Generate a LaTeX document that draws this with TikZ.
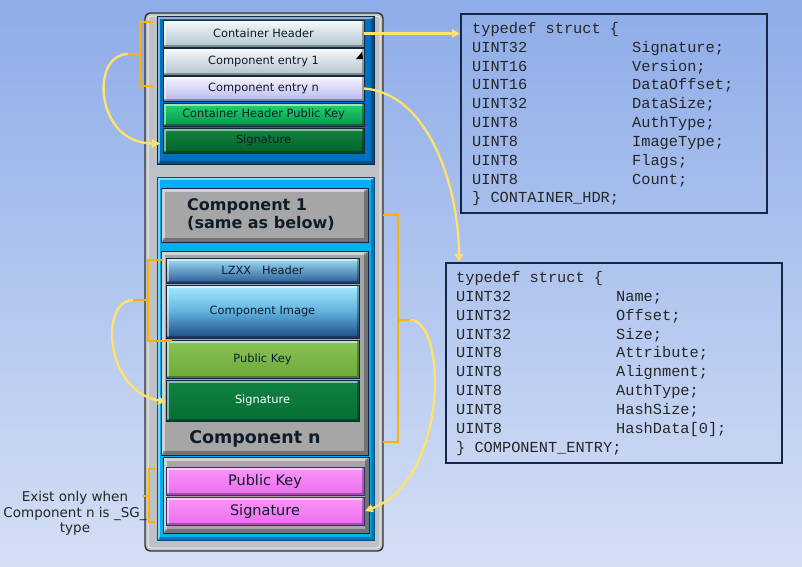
\documentclass[tikz,border=0pt]{standalone}
\usepackage{fontspec}
\setmainfont{DejaVu Sans}
\newfontfamily\monofont{Liberation Mono}
\usetikzlibrary{calc,arrows.meta}
\definecolor{bgtop}{RGB}{142,172,232}
\definecolor{bgbot}{RGB}{212,223,245}
\definecolor{edge}{RGB}{20,40,70}
\definecolor{txt}{RGB}{14,28,42}
\definecolor{outerg}{RGB}{190,194,198}
\definecolor{topblue}{RGB}{0,112,192}
\definecolor{cyanb}{RGB}{0,176,240}
\definecolor{yarr}{RGB}{255,226,102}
\definecolor{obr}{RGB}{255,176,0}
\definecolor{grayb}{RGB}{166,166,166}
\definecolor{pinkt}{RGB}{250,150,250}
\definecolor{pinkb}{RGB}{236,108,236}
\begin{document}
\begin{tikzpicture}[x=1pt,y=-1pt,
  lbl/.style={font=\fontsize{11.4}{13}\selectfont, text=txt},
  bevel/.style={path picture={
    \draw[white, opacity=0.5, line width=#1] ([xshift=0.5*#1,yshift=0.5*#1]path picture bounding box.south west) -- ([xshift=0.5*#1,yshift=-0.5*#1]path picture bounding box.north west) -- ([xshift=-0.5*#1,yshift=-0.5*#1]path picture bounding box.north east);
    \draw[black, opacity=0.3, line width=#1] ([xshift=-0.5*#1,yshift=-0.5*#1]path picture bounding box.north east) -- ([xshift=-0.5*#1,yshift=0.5*#1]path picture bounding box.south east) -- ([xshift=0.5*#1,yshift=0.5*#1]path picture bounding box.south west);
  }},
  bevel/.default=2.5pt,
  bx/.style={draw=edge, line width=0.8pt, inner sep=0pt, outer sep=0pt},
  yarrow/.style={draw=yarr, line width=2.3pt, -{Triangle[length=8pt,width=8pt]}},
  brace/.style={draw=obr, line width=2.5pt},
  mono/.style={font=\monofont\fontsize{15.3}{18.85}\selectfont, text=black!85, inner sep=0pt},
  structbox/.style={draw=edge, line width=2pt, inner sep=0pt}
]
\useasboundingbox (0,0) rectangle (802,566);
\fill[top color=bgtop,bottom color=bgbot] (0,0) rectangle (802,566);

% outer container
\node[bx, draw=black!80, line width=1.4pt, rounded corners=5pt, fill=outerg, minimum width=238pt, minimum height=538pt] (outer) at (264,282) {};
\draw[white!85!gray, line width=1pt, rounded corners=3pt] ($(outer.north west)+(3,3)$) rectangle ($(outer.south east)+(-3,-3)$);

% top blue region
\node[bx, fill=topblue, draw=edge, minimum width=217pt, minimum height=148pt, bevel=3pt] (topb) at (265.5,90) {};

\node[bx, lbl, bevel, top color={rgb,255:red,246;green,249;blue,251}, bottom color={rgb,255:red,178;green,196;blue,206}, minimum width=201pt, minimum height=27pt] (ch) at (263.5,33.5) {Container Header};
\node[bx, lbl, bevel, top color={rgb,255:red,246;green,249;blue,251}, bottom color={rgb,255:red,178;green,196;blue,206}, minimum width=201pt, minimum height=27pt] (ce1) at (263.5,61.5) {Component entry 1};
\fill[black] (356,59) -- (362,52) -- (363,59) -- cycle;
\node[bx, lbl, bevel, top color={rgb,255:red,246;green,246;blue,255}, bottom color={rgb,255:red,184;green,184;blue,240}, minimum width=201pt, minimum height=25pt] (cen) at (263.5,88.5) {Component entry n};
\node[bx, lbl, bevel, top color={rgb,255:red,40;green,212;blue,112}, bottom color={rgb,255:red,0;green,152;blue,72}, minimum width=201pt, minimum height=23pt] (chpk) at (263.5,114.5) {Container Header Public Key};
\node[bx, lbl, bevel, top color={rgb,255:red,22;green,132;blue,62}, bottom color={rgb,255:red,0;green,98;blue,44}, minimum width=201pt, minimum height=25pt] (sig1) at (263.5,140.5) {Signature};

% lower cyan region
\node[bx, fill=cyanb, draw={rgb,255:red,0;green,80;blue,140}, minimum width=217pt, minimum height=363pt, bevel=3pt] (cyanr) at (265.5,358.5) {};

\node[bx, fill=grayb, bevel=4pt, minimum width=207pt, minimum height=54pt] (comp1) at (264.5,215) {};
\node[anchor=west, align=left, font=\bfseries\fontsize{16}{18}\selectfont, text=txt, inner sep=0pt] (comp1t) at (187,215) {Component 1\\(same as below)};

\node[bx, fill=grayb, bevel=4pt, minimum width=207pt, minimum height=204pt] (compn) at (264.5,353) {};
\node[bx, lbl, bevel, top color={rgb,255:red,164;green,224;blue,246}, bottom color={rgb,255:red,40;green,92;blue,152}, minimum width=193pt, minimum height=25pt] (lzxx) at (262.5,270.5) {LZXX\ \ \ Header};
\node[bx, lbl, bevel, top color={rgb,255:red,168;green,234;blue,255}, bottom color={rgb,255:red,30;green,72;blue,132}, middle color={rgb,255:red,96;green,178;blue,222}, minimum width=193pt, minimum height=53pt] (cimg) at (262.5,311.5) {Component Image};
\node[bx, lbl, bevel, top color={rgb,255:red,138;green,196;blue,88}, bottom color={rgb,255:red,108;green,168;blue,58}, minimum width=193pt, minimum height=38pt] (pk) at (262.5,359) {Public Key};
\node[bx, lbl, bevel, text=white, top color={rgb,255:red,16;green,132;blue,66}, bottom color={rgb,255:red,6;green,110;blue,52}, minimum width=193pt, minimum height=41pt] (sig2) at (262.5,400.5) {Signature};
\node[font=\bfseries\fontsize{17.5}{19}\selectfont, text=txt, inner sep=0pt] (compnt) at (255,439) {Component n};

\node[bx, fill=grayb, bevel=4pt, minimum width=206pt, minimum height=76pt] (sgb) at (266,495) {};
\node[bx, bevel, draw={rgb,255:red,50;green,50;blue,110}, font=\fontsize{14.5}{16}\selectfont, text=txt, top color=pinkt, bottom color=pinkb, minimum width=198pt, minimum height=28pt] (ppk) at (265,481) {Public Key};
\node[bx, bevel, draw={rgb,255:red,50;green,50;blue,110}, font=\fontsize{14.5}{16}\selectfont, text=txt, top color=pinkt, bottom color=pinkb, minimum width=198pt, minimum height=28pt] (psig) at (265,511) {Signature};

\node[align=center, font=\fontsize{13.5}{15.5}\selectfont, text=black!85, inner sep=0pt] (exist) at (75,513.5) {Exist only when\\Component n is \_SG\_\\type};

% struct boxes
\node[structbox, minimum width=306pt, minimum height=199pt] (s1) at (614,113.5) {};
\node[mono, anchor=base west] (s1t) at (472,33.3) {\begin{tabular}[t]{@{}l@{}}
typedef struct \{\\
\makebox[160pt][l]{UINT32}Signature;\\
\makebox[160pt][l]{UINT16}Version;\\
\makebox[160pt][l]{UINT16}DataOffset;\\
\makebox[160pt][l]{UINT32}DataSize;\\
\makebox[160pt][l]{UINT8}AuthType;\\
\makebox[160pt][l]{UINT8}ImageType;\\
\makebox[160pt][l]{UINT8}Flags;\\
\makebox[160pt][l]{UINT8}Count;\\
\} CONTAINER\_HDR;
\end{tabular}};

\node[structbox, minimum width=336pt, minimum height=200pt] (s2) at (614,363) {};
\node[mono, anchor=base west] (s2t) at (456,282.5) {\begin{tabular}[t]{@{}l@{}}
typedef struct \{\\
\makebox[160pt][l]{UINT32}Name;\\
\makebox[160pt][l]{UINT32}Offset;\\
\makebox[160pt][l]{UINT32}Size;\\
\makebox[160pt][l]{UINT8}Attribute;\\
\makebox[160pt][l]{UINT8}Alignment;\\
\makebox[160pt][l]{UINT8}AuthType;\\
\makebox[160pt][l]{UINT8}HashSize;\\
\makebox[160pt][l]{UINT8}HashData[0];\\
\} COMPONENT\_ENTRY;
\end{tabular}};

% braces
\draw[brace] (153,22) -- (140,22) -- (140,86) -- (153,86);
\coordinate (b1m) at (128,54);
\draw[brace] (140,54) -- (b1m);
\draw[brace] (163,260) -- (148,260) -- (148,341) -- (172,341);
\coordinate (b2m) at (133,300);
\draw[brace] (148,300) -- (b2m);
\draw[brace] (383,215) -- (398,215) -- (398,442) -- (383,442);
\coordinate (b3m) at (410,320);
\draw[brace] (398,320) -- (b3m);
\draw[brace] (155,469) -- (149,469) -- (149,522) -- (155,522);
\draw[brace] (149,496) -- (143,496);

% connectors
\coordinate (s2top) at ($(s2.north west)+(14,0)$);
\draw[yarrow] (ch.east) -- (s1.west |- ch.east);
\draw[yarrow] (cen.east) .. controls +(66,5) and +(0,-72) .. (s2top);
\draw[yarrow] (b1m) .. controls +(-38,0) and +(-65,0) .. ($(sig1.west)+(-3,3)$);
\draw[yarrow] (b2m) .. controls +(-33,0) and +(-62,-12) .. ($(sig2.west)+(0,1.5)$);
\draw[yarrow] (b3m) .. controls +(38,0) and +(83,-31) .. ($(psig.east)+(1,0)$);
\end{tikzpicture}
\end{document}
